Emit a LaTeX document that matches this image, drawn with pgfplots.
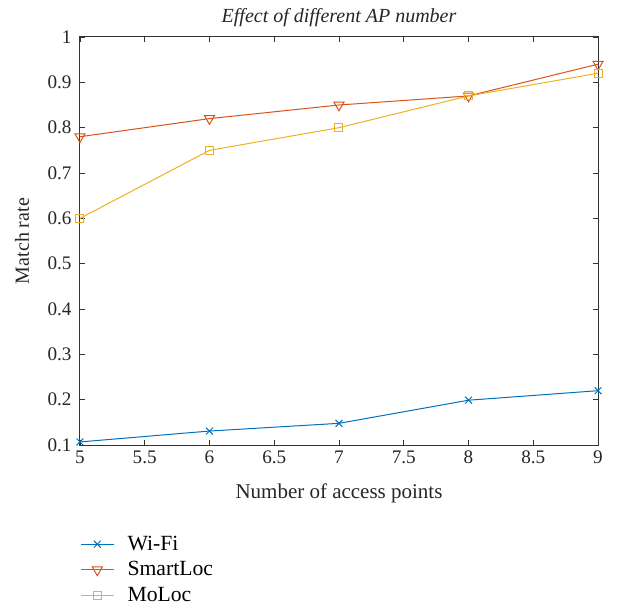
\documentclass[border=0pt]{standalone}
\usepackage{pgfplots}
\pgfplotsset{compat=1.18}
\usepackage{fontspec}
\setmainfont{Liberation Serif}
\definecolor{mblue}{rgb}{0,0.447,0.741}
\definecolor{mred}{rgb}{0.85,0.325,0.098}
\definecolor{myellow}{rgb}{0.929,0.694,0.125}
\begin{document}
\begin{tikzpicture}
\begin{axis}[
  scale only axis,
  width=311pt, height=245pt,
  xmin=5, xmax=9, ymin=0.1, ymax=1,
  xtick={5,5.5,...,9}, ytick={0.1,0.2,...,1.0},
  yticklabels={0.1,0.2,0.3,0.4,0.5,0.6,0.7,0.8,0.9,1},
  xticklabels={5,5.5,6,6.5,7,7.5,8,8.5,9},
  tick align=inside,
  major tick length=3pt,
  axis line style={line width=0.6pt, black!80},
  every tick/.style={black!80, line width=0.5pt},
  /pgf/number format/assume math mode=true,
  tick label style={font=\rmfamily\fontsize{11.5}{13}\selectfont, text=black!85},
  yticklabel style={xshift=-1.5pt},
  xlabel={Number of access points},
  ylabel={Match rate},
  every axis x label/.style={at={(axis description cs:0.5,-0.1176)}, anchor=center, font=\fontsize{12.6}{14}\selectfont, text=black!85},
  every axis y label/.style={at={(axis description cs:-0.112,0.5)}, rotate=90, anchor=center, font=\fontsize{12}{14}\selectfont, text=black!85},
  title={\itshape Effect of different AP number},
  every axis title/.style={at={(axis description cs:0.5,1.047)}, anchor=center, font=\fontsize{12}{14}\selectfont, text=black!85},
  legend style={draw=none, at={(0,-0.205)}, anchor=north west, font=\fontsize{13}{15}\selectfont, row sep=1.3pt, column sep=6pt, fill=none, inner xsep=0pt},
  legend cell align=left,
  legend image code/.code={\draw[#1] (0pt,0pt) -- (19.8pt,0pt); \draw[#1, only marks] plot coordinates {(9.9pt,0pt)};},
]
\addplot[color=mblue, mark=x, mark size=2.9pt, line width=0.6pt] coordinates {(5,0.107) (6,0.131) (7,0.148) (8,0.199) (9,0.220)};
\addlegendentry{Wi-Fi}
\addplot[color=mred, mark=triangle, mark options={rotate=180}, mark size=3.5pt, line width=0.6pt] coordinates {(5,0.78) (6,0.82) (7,0.85) (8,0.87) (9,0.94)};
\addlegendentry{SmartLoc}
\addplot[color=myellow, mark=square, mark size=2.4pt, line width=0.6pt] coordinates {(5,0.60) (6,0.75) (7,0.80) (8,0.87) (9,0.92)};
\addlegendentry{MoLoc}
\end{axis}
\path ([xshift=-48pt,yshift=-96.6pt]current axis.south west) rectangle ([xshift=11.4pt,yshift=22.2pt]current axis.north east);
\end{tikzpicture}
\end{document}
